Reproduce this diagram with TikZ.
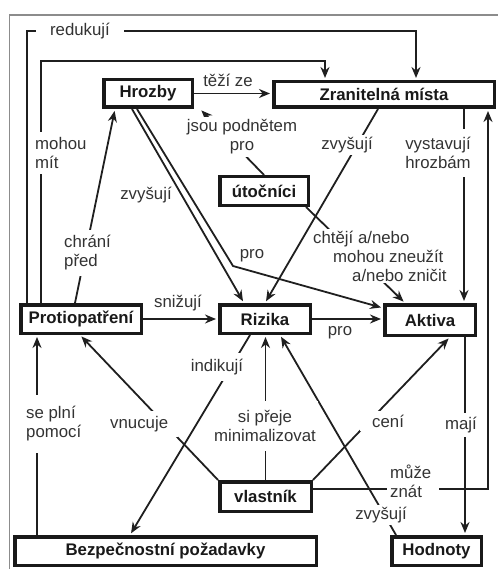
\documentclass[tikz,border=0pt]{standalone}
\usepackage{fontspec}
\setmainfont{Liberation Sans}
\usetikzlibrary{arrows.meta,calc}
\begin{document}
\begin{tikzpicture}[x=1pt,y=-1pt,font=\fontsize{16.8}{19}\selectfont,
  box/.style={draw=black!90, line width=3.5pt, fill=white, font=\fontsize{16.8}{19}\selectfont\bfseries, text=black!90, inner sep=0pt},
  conn/.style={draw=black!88, line width=1.8pt, -{Stealth[length=11pt,width=9pt]}, shorten >=2pt},
  lbl/.style={fill=white, text=black!80, inner sep=2pt, align=center},
  txt/.style={text=black!80, inner sep=2pt, align=center},
  frame/.style={draw=black!45, line width=1.5pt}]
\useasboundingbox (0,0) rectangle (498,569);
\fill[white] (0,0) rectangle (498,569);
\draw[frame] (9.5,569) -- (9.5,15) -- (498,15);

% nodes
\node[box, minimum width=88.5pt, minimum height=27.5pt] (hrozby) at (148,93.5) {Hrozby};
\node[box, minimum width=220.5pt, minimum height=25.5pt] (zran) at (384,94.5) {Zranitelná místa};
\node[box, minimum width=88.5pt, minimum height=28.5pt] (utoc) at (264,191) {útočníci};
\node[box, minimum width=120.5pt, minimum height=28.5pt] (proti) at (81,319) {Protiopatření};
\node[box, minimum width=90.5pt, minimum height=28.5pt] (rizika) at (265,319) {Rizika};
\node[box, minimum width=90.5pt, minimum height=30.5pt] (aktiva) at (430,320) {Aktiva};
\node[box, minimum width=91.5pt, minimum height=29.5pt] (vlastnik) at (265.5,496.5) {vlastník};
\node[box, minimum width=301.5pt, minimum height=28.5pt] (bezp) at (165.5,551) {Bezpečnostní požadavky};
\node[box, minimum width=89.5pt, minimum height=28.5pt] (hodnoty) at (436.5,551) {Hodnoty};

% connectors
\coordinate (r1) at (27,31); \coordinate (r2) at (416,31);
\draw[conn] (proti.north -| r1) -- (r1) -- (r2) -- (zran.north -| r2);
\coordinate (m1) at (41,61); \coordinate (m2) at (325,61);
\draw[conn] (proti.north -| m1) -- (m1) -- (m2) -- (zran.north -| m2);
\draw[conn] (hrozby.east) -- (hrozby.east -| zran.west);
\draw[conn] (utoc.north) -- ($(hrozby.south east)+(6,0)$);
\draw[conn] ($(hrozby.south)+(-16,0)$) -- ($(rizika.north)+(-21,0)$);
\coordinate (b1) at (233,266);
\draw[conn] ($(hrozby.south)+(-11,0)$) -- (b1) -- ($(aktiva.west)+(0,-12)$);
\draw[conn] ($(proti.north)+(-6,0)$) -- ($(hrozby.south)+(-33,0)$);
\draw[conn] ($(zran.south)+(-6,0)$) -- (rizika.north);
\draw[conn] ($(utoc.south east)+(-4,0)$) -- ($(aktiva.north)+(-25,0)$);
\draw[conn] (proti.east) -- (proti.east -| rizika.west);
\draw[conn] (rizika.east) -- (rizika.east -| aktiva.west);
\draw[conn] ($(zran.south)+(80,0)$) -- ($(aktiva.north)+(34,0)$);
\draw[conn] ($(aktiva.south)+(35,0)$) -- ($(hodnoty.north)+(28.5,0)$);
\draw[conn] ($(vlastnik.east)+(0,-7.5)$) -| ($(zran.south)+(104,0)$);
\draw[conn] (vlastnik.north) -- (vlastnik.north |- rizika.south);
\draw[conn] (vlastnik.north east) -- ($(aktiva.south)+(20,0)$);
\draw[conn] (vlastnik.north west) -- ($(proti.south)+(-1,0)$);
\draw[conn] ($(rizika.south)+(-15,0)$) -- ($(bezp.north)+(-35.5,0)$);
\draw[conn] ($(bezp.north)+(-128.5,0)$) -- ($(proti.south)+(-44,0)$);
\draw[conn] ($(hodnoty.north west)+(6,0)$) -- ($(rizika.south)+(15,0)$);

% labels
\node[lbl, inner xsep=14pt] (lred) at (80,31) {redukují};
\node[lbl, anchor=west, align=left, inner ysep=5pt] (lmoh) at (33,153) {mohou\\mít};
\node[txt] (ltez) at (228,80) {těží ze};
\node[lbl, inner sep=3pt] (ljsou) at (242,137) {jsou podnětem\\pro};
\node[txt] (lzv1) at (146,195) {zvyšují};
\node[txt] (lpro1) at (252,256) {pro};
\node[lbl, anchor=west, align=left, inner ysep=6pt] (lchr) at (62,253) {chrání\\před};
\node[lbl] (lzv2) at (347,145) {zvyšují};
\node[lbl, anchor=west, align=left] (lcht) at (311,256) {chtějí a/nebo\\\hspace*{20pt}mohou zneužít\\\hspace*{39pt}a/nebo zničit};
\node[txt] (lsni) at (178,303) {snižují};
\node[txt] (lpro2) at (340,333) {pro};
\node[lbl, inner ysep=8pt] (lvys) at (438,153) {vystavují\\hrozbám};
\node[lbl, inner ysep=4pt] (lmaj) at (461,425) {mají};
\node[lbl, anchor=west, align=left, inner xsep=3pt] (lmuz) at (387,481) {může\\znát\hspace*{14pt}};
\node[lbl, inner ysep=9pt] (lsip) at (265,426) {si přeje\\minimalizovat};
\node[lbl, anchor=west, inner xsep=2pt, inner ysep=4pt] (lcen) at (360,421) {\hspace*{10pt}cení};
\node[lbl, anchor=west, inner ysep=5pt] (lvnu) at (108,424) {vnucuje\hspace*{8pt}};
\node[lbl, inner ysep=6pt] (lind) at (217,367) {indikují};
\node[lbl, anchor=west, align=left, inner ysep=12pt] (lse) at (24,424) {se plní\\pomocí};
\node[lbl] (lzv3) at (381,515) {zvyšují};
\end{tikzpicture}
\end{document}
